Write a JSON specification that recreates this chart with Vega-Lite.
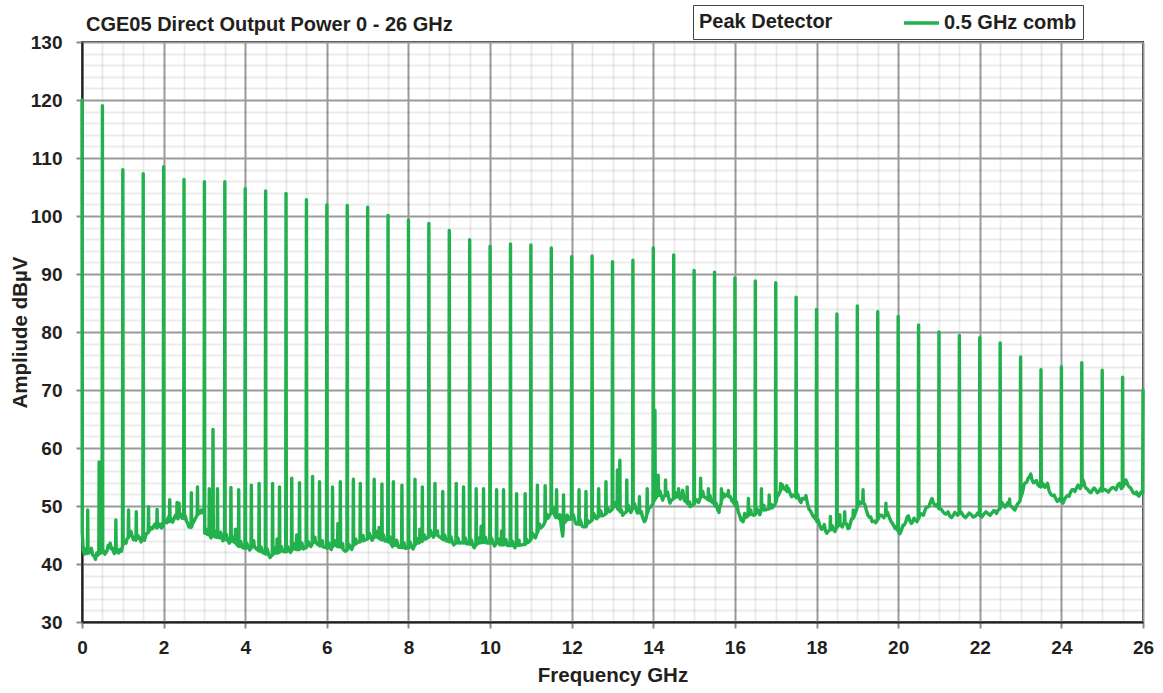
{
"$schema": "https://vega.github.io/schema/vega-lite/v6.json",
"width": 1061,
"height": 580,
"autosize": {"type": "none"},
"padding": {"left": 82, "top": 42, "right": 20, "bottom": 71},
"background": "white",
"title": {"text": "CGE05 Direct Output Power 0 - 26 GHz", "anchor": "start", "frame": "group", "font": "Liberation Sans", "fontSize": 20, "fontWeight": "bold", "color": "#231f20", "baseline": "alphabetic", "offset": -46, "dx": 4},
"config": {"view": {"stroke": "#231f20", "strokeWidth": 2}, "font": "Liberation Sans"},
"data": {"values": [
{"f":0,"a":120},{"f":0.006,"a":45.5},{"f":0.03,"a":42.4},{"f":0.06,"a":41.7},{"f":0.1,"a":42.1},{"f":0.132,"a":41.8},{"f":0.14,"a":49.3},{"f":0.148,"a":41.9},{"f":0.2,"a":42.3},{"f":0.26,"a":41.6},{"f":0.33,"a":40.8},{"f":0.38,"a":41.5},{"f":0.412,"a":41.7},{"f":0.42,"a":57.6},{"f":0.428,"a":42.1},{"f":0.47,"a":41.9},{"f":0.492,"a":42.3},
{"f":0.5,"a":119},{"f":0.508,"a":42},{"f":0.56,"a":41.7},{"f":0.62,"a":42.4},{"f":0.66,"a":42.9},{"f":0.69,"a":43.6},{"f":0.72,"a":42.6},{"f":0.77,"a":42.2},{"f":0.822,"a":42},{"f":0.83,"a":47.6},{"f":0.838,"a":42.1},{"f":0.9,"a":41.9},{"f":0.95,"a":42.6},{"f":0.992,"a":43.1},
{"f":1.0,"a":108},{"f":1.008,"a":43.3},{"f":1.06,"a":43.9},{"f":1.1,"a":44.3},{"f":1.132,"a":44.5},{"f":1.14,"a":49.3},{"f":1.148,"a":44.7},{"f":1.2,"a":45.6},{"f":1.26,"a":44.2},{"f":1.322,"a":44.1},{"f":1.33,"a":49},{"f":1.338,"a":44.3},{"f":1.4,"a":44.5},{"f":1.45,"a":43.8},{"f":1.492,"a":44.2},
{"f":1.5,"a":107.3},{"f":1.508,"a":44.4},{"f":1.56,"a":44.9},{"f":1.622,"a":45.4},{"f":1.63,"a":49.9},{"f":1.638,"a":45.6},{"f":1.7,"a":46.3},{"f":1.76,"a":46.6},{"f":1.832,"a":46.2},{"f":1.84,"a":49.4},{"f":1.848,"a":46.5},{"f":1.9,"a":46.9},{"f":1.95,"a":46.2},{"f":1.992,"a":46.5},
{"f":2.0,"a":108.5},{"f":2.008,"a":47},{"f":2.06,"a":47.3},{"f":2.1,"a":47.7},{"f":2.142,"a":47.3},{"f":2.15,"a":51.1},{"f":2.158,"a":47.5},{"f":2.22,"a":47.2},{"f":2.26,"a":47.9},{"f":2.322,"a":48},{"f":2.33,"a":50.6},{"f":2.338,"a":48.1},{"f":2.372,"a":48.3},{"f":2.38,"a":50.5},{"f":2.388,"a":48.3},{"f":2.45,"a":47.9},{"f":2.492,"a":48},
{"f":2.5,"a":106.3},{"f":2.508,"a":47.8},{"f":2.56,"a":47.4},{"f":2.62,"a":46.4},{"f":2.672,"a":46.3},{"f":2.68,"a":52.3},{"f":2.688,"a":46.4},{"f":2.75,"a":47.4},{"f":2.822,"a":48.4},{"f":2.83,"a":53.3},{"f":2.838,"a":48.5},{"f":2.9,"a":48.8},{"f":2.95,"a":49.1},{"f":2.992,"a":49.4},
{"f":3.0,"a":105.9},{"f":3.008,"a":45.3},{"f":3.07,"a":45.1},{"f":3.112,"a":45},{"f":3.12,"a":53},{"f":3.128,"a":45},{"f":3.202,"a":44.9},{"f":3.21,"a":63.2},{"f":3.218,"a":44.9},{"f":3.26,"a":44.7},{"f":3.312,"a":44.6},{"f":3.32,"a":53},{"f":3.328,"a":44.6},{"f":3.38,"a":44.5},{"f":3.45,"a":44.4},{"f":3.492,"a":44.3},
{"f":3.5,"a":105.9},{"f":3.508,"a":44.2},{"f":3.57,"a":44.1},{"f":3.642,"a":44},{"f":3.65,"a":53.2},{"f":3.658,"a":43.9},{"f":3.72,"a":43.8},{"f":3.752,"a":43.7},{"f":3.76,"a":46},{"f":3.768,"a":43.6},{"f":3.79,"a":43.4},{"f":3.832,"a":43.1},{"f":3.84,"a":52.8},{"f":3.848,"a":43},{"f":3.92,"a":42.9},{"f":3.992,"a":42.7},
{"f":4.0,"a":104.7},{"f":4.008,"a":42.7},{"f":4.07,"a":42.9},{"f":4.142,"a":42.8},{"f":4.15,"a":53.6},{"f":4.158,"a":42.8},{"f":4.22,"a":43.1},{"f":4.27,"a":42.6},{"f":4.332,"a":42.3},{"f":4.34,"a":53.9},{"f":4.348,"a":42.2},{"f":4.42,"a":42},{"f":4.492,"a":41.8},
{"f":4.5,"a":104.3},{"f":4.508,"a":41.7},{"f":4.58,"a":41.5},{"f":4.662,"a":41.6},{"f":4.67,"a":53.9},{"f":4.678,"a":41.6},{"f":4.73,"a":41.9},{"f":4.772,"a":41.9},{"f":4.78,"a":44.3},{"f":4.788,"a":41.9},{"f":4.832,"a":42},{"f":4.84,"a":53.3},{"f":4.848,"a":42.1},{"f":4.92,"a":42.2},{"f":4.992,"a":42.1},
{"f":5.0,"a":103.9},{"f":5.008,"a":42.1},{"f":5.07,"a":42.3},{"f":5.132,"a":42.4},{"f":5.14,"a":54.8},{"f":5.148,"a":42.4},{"f":5.22,"a":42.6},{"f":5.252,"a":42.5},{"f":5.26,"a":45},{"f":5.268,"a":42.5},{"f":5.322,"a":42.5},{"f":5.33,"a":54},{"f":5.338,"a":42.6},{"f":5.42,"a":42.6},{"f":5.492,"a":42.8},
{"f":5.5,"a":102.8},{"f":5.508,"a":42.9},{"f":5.58,"a":43.3},{"f":5.642,"a":43.5},{"f":5.65,"a":55.1},{"f":5.658,"a":43.6},{"f":5.72,"a":43.8},{"f":5.77,"a":43.4},{"f":5.812,"a":43.2},{"f":5.82,"a":54.2},{"f":5.828,"a":43.1},{"f":5.9,"a":43},{"f":5.992,"a":42.8},
{"f":6.0,"a":101.9},{"f":6.008,"a":42.7},{"f":6.07,"a":42.9},{"f":6.132,"a":43},{"f":6.14,"a":53.3},{"f":6.148,"a":43},{"f":6.22,"a":43.2},{"f":6.262,"a":43},{"f":6.27,"a":47},{"f":6.278,"a":43},{"f":6.322,"a":43},{"f":6.33,"a":54.2},{"f":6.338,"a":42.9},{"f":6.4,"a":42.5},{"f":6.45,"a":42.2},{"f":6.492,"a":42.4},
{"f":6.5,"a":101.8},{"f":6.508,"a":42.5},{"f":6.58,"a":42.9},{"f":6.642,"a":43.1},{"f":6.65,"a":54.6},{"f":6.658,"a":43.2},{"f":6.72,"a":43.5},{"f":6.76,"a":43.8},{"f":6.812,"a":43.8},{"f":6.82,"a":53.9},{"f":6.828,"a":43.9},{"f":6.9,"a":44},{"f":6.992,"a":44.3},
{"f":7.0,"a":101.5},{"f":7.008,"a":44.4},{"f":7.08,"a":44.6},{"f":7.152,"a":44.6},{"f":7.16,"a":54.6},{"f":7.168,"a":44.6},{"f":7.22,"a":44.7},{"f":7.272,"a":44.5},{"f":7.28,"a":46.3},{"f":7.288,"a":44.4},{"f":7.342,"a":44.2},{"f":7.35,"a":53.8},{"f":7.358,"a":44.2},{"f":7.42,"a":44},{"f":7.492,"a":43.9},
{"f":7.5,"a":100.1},{"f":7.508,"a":43.8},{"f":7.57,"a":43.5},{"f":7.622,"a":43.3},{"f":7.63,"a":54.2},{"f":7.638,"a":43.3},{"f":7.7,"a":43.2},{"f":7.76,"a":42.9},{"f":7.832,"a":42.9},{"f":7.84,"a":53.6},{"f":7.848,"a":42.8},{"f":7.92,"a":42.7},{"f":7.992,"a":42.8},
{"f":8.0,"a":99.3},{"f":8.008,"a":42.8},{"f":8.08,"a":43},{"f":8.152,"a":43.2},{"f":8.16,"a":54.6},{"f":8.168,"a":43.3},{"f":8.24,"a":43.6},{"f":8.272,"a":43.7},{"f":8.28,"a":46},{"f":8.288,"a":43.8},{"f":8.332,"a":43.9},{"f":8.34,"a":53.3},{"f":8.348,"a":44},{"f":8.42,"a":44.3},{"f":8.492,"a":44.6},
{"f":8.5,"a":98.7},{"f":8.508,"a":44.7},{"f":8.58,"a":45},{"f":8.642,"a":45.1},{"f":8.65,"a":53.9},{"f":8.658,"a":45},{"f":8.72,"a":44.9},{"f":8.78,"a":44.6},{"f":8.832,"a":44.3},{"f":8.84,"a":52.5},{"f":8.848,"a":44.2},{"f":8.92,"a":44},{"f":8.992,"a":43.9},
{"f":9.0,"a":97.5},{"f":9.008,"a":43.8},{"f":9.08,"a":43.7},{"f":9.162,"a":43.7},{"f":9.17,"a":53.9},{"f":9.178,"a":43.6},{"f":9.25,"a":43.6},{"f":9.3,"a":43.7},{"f":9.342,"a":43.6},{"f":9.35,"a":53.3},{"f":9.358,"a":43.6},{"f":9.42,"a":43.5},{"f":9.492,"a":43.5},
{"f":9.5,"a":95.9},{"f":9.508,"a":43.4},{"f":9.58,"a":43.2},{"f":9.652,"a":43.3},{"f":9.66,"a":53},{"f":9.668,"a":43.3},{"f":9.73,"a":43.6},{"f":9.772,"a":43.7},{"f":9.78,"a":46.5},{"f":9.788,"a":43.8},{"f":9.832,"a":43.7},{"f":9.84,"a":53},{"f":9.848,"a":43.7},{"f":9.92,"a":43.6},{"f":9.992,"a":43.6},
{"f":10.0,"a":94.8},{"f":10.008,"a":43.6},{"f":10.08,"a":43.5},{"f":10.152,"a":43.6},{"f":10.16,"a":52.8},{"f":10.168,"a":43.6},{"f":10.24,"a":43.3},{"f":10.272,"a":43.3},{"f":10.28,"a":45.7},{"f":10.288,"a":43.3},{"f":10.322,"a":43.3},{"f":10.33,"a":52.8},{"f":10.338,"a":43.3},{"f":10.42,"a":43.2},{"f":10.492,"a":43.2},
{"f":10.5,"a":95.2},{"f":10.508,"a":43.2},{"f":10.58,"a":43.1},{"f":10.642,"a":43.2},{"f":10.65,"a":52.1},{"f":10.658,"a":43.2},{"f":10.72,"a":43.2},{"f":10.78,"a":43.3},{"f":10.852,"a":43.4},{"f":10.86,"a":52.1},{"f":10.868,"a":43.4},{"f":10.93,"a":43.7},{"f":10.992,"a":44.1},
{"f":11.0,"a":95},{"f":11.008,"a":44.3},{"f":11.08,"a":44.8},{"f":11.152,"a":45.4},{"f":11.16,"a":53.6},{"f":11.168,"a":45.5},{"f":11.24,"a":46.2},{"f":11.3,"a":46.6},{"f":11.342,"a":47.2},{"f":11.35,"a":53.5},{"f":11.358,"a":47.4},{"f":11.42,"a":47.9},{"f":11.492,"a":48.8},
{"f":11.5,"a":94.5},{"f":11.508,"a":49.2},{"f":11.56,"a":48.8},{"f":11.622,"a":48.5},{"f":11.63,"a":52.8},{"f":11.638,"a":48.3},{"f":11.7,"a":47.8},{"f":11.75,"a":46.2},{"f":11.78,"a":44.8},{"f":11.792,"a":46},{"f":11.8,"a":51.9},{"f":11.808,"a":47},{"f":11.87,"a":47.5},{"f":11.94,"a":47.7},{"f":11.992,"a":47.8},
{"f":12.0,"a":93},{"f":12.008,"a":47.8},{"f":12.08,"a":47.4},{"f":12.172,"a":46.9},{"f":12.18,"a":52.8},{"f":12.188,"a":46.8},{"f":12.26,"a":46.5},{"f":12.3,"a":46.4},{"f":12.342,"a":46.4},{"f":12.35,"a":52.5},{"f":12.358,"a":46.5},{"f":12.42,"a":47.1},{"f":12.492,"a":47.5},
{"f":12.5,"a":93.1},{"f":12.508,"a":47.6},{"f":12.58,"a":48.1},{"f":12.652,"a":48.2},{"f":12.66,"a":53},{"f":12.668,"a":48.2},{"f":12.74,"a":48.3},{"f":12.78,"a":48.4},{"f":12.832,"a":48.6},{"f":12.84,"a":54.2},{"f":12.848,"a":48.7},{"f":12.92,"a":49},{"f":12.992,"a":49.4},
{"f":13.0,"a":92.1},{"f":13.008,"a":49.6},{"f":13.06,"a":49.9},{"f":13.112,"a":50},{"f":13.12,"a":56.2},{"f":13.128,"a":49.5},{"f":13.172,"a":49.2},{"f":13.18,"a":57.9},{"f":13.188,"a":49},{"f":13.25,"a":48.4},{"f":13.3,"a":48.8},{"f":13.342,"a":49},{"f":13.35,"a":54.5},{"f":13.358,"a":49.1},{"f":13.42,"a":49.3},{"f":13.492,"a":49.6},
{"f":13.5,"a":92.4},{"f":13.508,"a":49.6},{"f":13.58,"a":49.4},{"f":13.652,"a":49},{"f":13.66,"a":51.6},{"f":13.668,"a":48.8},{"f":13.73,"a":48.2},{"f":13.78,"a":47.3},{"f":13.81,"a":47.6},{"f":13.842,"a":48.5},{"f":13.85,"a":53},{"f":13.858,"a":48.8},{"f":13.93,"a":49.8},{"f":13.992,"a":50.4},
{"f":14.0,"a":94.5},{"f":14.008,"a":50.8},{"f":14.032,"a":51},{"f":14.04,"a":66.5},{"f":14.048,"a":51.2},{"f":14.08,"a":51.6},{"f":14.112,"a":51.8},{"f":14.12,"a":55.3},{"f":14.128,"a":51.8},{"f":14.2,"a":51.7},{"f":14.25,"a":51.6},{"f":14.292,"a":51.8},{"f":14.3,"a":54.5},{"f":14.308,"a":51.8},{"f":14.38,"a":51.3},{"f":14.44,"a":51},{"f":14.492,"a":51.2},
{"f":14.5,"a":93.3},{"f":14.508,"a":51.3},{"f":14.56,"a":51.5},{"f":14.612,"a":51.8},{"f":14.62,"a":53},{"f":14.628,"a":51.8},{"f":14.7,"a":51.9},{"f":14.76,"a":51},{"f":14.822,"a":50.6},{"f":14.83,"a":53.3},{"f":14.838,"a":50.4},{"f":14.9,"a":49.9},{"f":14.95,"a":50.1},{"f":14.992,"a":50.3},
{"f":15.0,"a":90.6},{"f":15.008,"a":50.4},{"f":15.08,"a":51},{"f":15.152,"a":51.4},{"f":15.16,"a":54.8},{"f":15.168,"a":51.5},{"f":15.24,"a":51.6},{"f":15.3,"a":51.3},{"f":15.342,"a":51.1},{"f":15.35,"a":53},{"f":15.358,"a":51},{"f":15.42,"a":50.8},{"f":15.492,"a":50.4},
{"f":15.5,"a":90.3},{"f":15.508,"a":50},{"f":15.58,"a":49.3},{"f":15.62,"a":49.6},{"f":15.662,"a":50.5},{"f":15.67,"a":53},{"f":15.678,"a":51},{"f":15.75,"a":51.6},{"f":15.8,"a":52},{"f":15.832,"a":51.8},{"f":15.84,"a":52.7},{"f":15.848,"a":51.6},{"f":15.92,"a":51},{"f":15.992,"a":50.3},
{"f":16.0,"a":89.3},{"f":16.008,"a":50},{"f":16.08,"a":49},{"f":16.15,"a":47.6},{"f":16.2,"a":47.3},{"f":16.26,"a":48},{"f":16.322,"a":48.3},{"f":16.33,"a":51.3},{"f":16.338,"a":48.4},{"f":16.4,"a":48.6},{"f":16.46,"a":48.4},{"f":16.492,"a":48.5},
{"f":16.5,"a":88.8},{"f":16.508,"a":48.6},{"f":16.58,"a":49.1},{"f":16.642,"a":49.2},{"f":16.65,"a":53},{"f":16.658,"a":49.3},{"f":16.72,"a":49.3},{"f":16.78,"a":49.4},{"f":16.832,"a":49.5},{"f":16.84,"a":51.9},{"f":16.848,"a":49.5},{"f":16.92,"a":49.7},{"f":16.992,"a":50.4},
{"f":17.0,"a":88.5},{"f":17.008,"a":50.7},{"f":17.06,"a":51.8},{"f":17.112,"a":52.6},{"f":17.12,"a":53.9},{"f":17.128,"a":52.8},{"f":17.2,"a":53},{"f":17.262,"a":52.7},{"f":17.27,"a":53.5},{"f":17.278,"a":52.5},{"f":17.35,"a":52.2},{"f":17.42,"a":51.9},{"f":17.492,"a":51.6},
{"f":17.5,"a":86},{"f":17.508,"a":51.4},{"f":17.58,"a":51},{"f":17.65,"a":51.3},{"f":17.71,"a":51.2},{"f":17.78,"a":50.3},{"f":17.85,"a":49.2},{"f":17.92,"a":48.2},{"f":17.992,"a":47.6},
{"f":18.0,"a":83.9},{"f":18.008,"a":47.3},{"f":18.08,"a":46.6},{"f":18.15,"a":46.1},{"f":18.22,"a":45.7},{"f":18.28,"a":45.6},{"f":18.332,"a":45.9},{"f":18.34,"a":48.2},{"f":18.348,"a":45.9},{"f":18.42,"a":45.9},{"f":18.492,"a":46.3},
{"f":18.5,"a":83.1},{"f":18.508,"a":46.4},{"f":18.562,"a":46.7},{"f":18.57,"a":48.5},{"f":18.578,"a":46.8},{"f":18.682,"a":47.3},{"f":18.69,"a":49},{"f":18.698,"a":47},{"f":18.77,"a":46.1},{"f":18.83,"a":47},{"f":18.892,"a":47.8},{"f":18.9,"a":49.3},{"f":18.908,"a":48},{"f":18.96,"a":49},{"f":18.992,"a":49.6},
{"f":19.0,"a":84.5},{"f":19.008,"a":49.9},{"f":19.07,"a":50.4},{"f":19.132,"a":50.6},{"f":19.14,"a":52.8},{"f":19.148,"a":50.5},{"f":19.22,"a":49.3},{"f":19.3,"a":48},{"f":19.36,"a":47.3},{"f":19.42,"a":47.4},{"f":19.492,"a":47.6},
{"f":19.5,"a":83.5},{"f":19.508,"a":47.7},{"f":19.6,"a":48.4},{"f":19.692,"a":48.5},{"f":19.7,"a":50.5},{"f":19.708,"a":48.4},{"f":19.78,"a":48.1},{"f":19.86,"a":47},{"f":19.93,"a":46.1},{"f":19.992,"a":45.8},
{"f":20.0,"a":82.7},{"f":20.008,"a":45.6},{"f":20.08,"a":45.8},{"f":20.15,"a":46.7},{"f":20.22,"a":48.1},{"f":20.28,"a":47.6},{"f":20.35,"a":47.2},{"f":20.42,"a":47.6},{"f":20.492,"a":47.8},
{"f":20.5,"a":81.2},{"f":20.508,"a":47.9},{"f":20.58,"a":48.6},{"f":20.65,"a":49.1},{"f":20.72,"a":49.8},{"f":20.8,"a":50.9},{"f":20.86,"a":50.6},{"f":20.93,"a":50},{"f":20.992,"a":49.6},
{"f":21.0,"a":80},{"f":21.008,"a":49.5},{"f":21.1,"a":49},{"f":21.18,"a":48.6},{"f":21.27,"a":48.2},{"f":21.35,"a":48.4},{"f":21.42,"a":48.7},{"f":21.492,"a":48.8},
{"f":21.5,"a":79.4},{"f":21.508,"a":48.7},{"f":21.6,"a":48.3},{"f":21.7,"a":48.4},{"f":21.79,"a":48.5},{"f":21.9,"a":48.3},{"f":21.992,"a":48.4},
{"f":22.0,"a":79},{"f":22.008,"a":48.4},{"f":22.1,"a":48.6},{"f":22.2,"a":48.7},{"f":22.3,"a":48.8},{"f":22.38,"a":49.1},{"f":22.45,"a":49.3},{"f":22.492,"a":49.5},
{"f":22.5,"a":78.1},{"f":22.508,"a":49.7},{"f":22.58,"a":50.2},{"f":22.65,"a":50.1},{"f":22.722,"a":50.3},{"f":22.73,"a":51.2},{"f":22.738,"a":50.1},{"f":22.82,"a":49.6},{"f":22.9,"a":50},{"f":22.96,"a":50.6},{"f":22.992,"a":51},
{"f":23.0,"a":75.7},{"f":23.008,"a":51.5},{"f":23.06,"a":52.8},{"f":23.12,"a":54},{"f":23.18,"a":54.7},{"f":23.22,"a":55.1},{"f":23.28,"a":54.5},{"f":23.35,"a":54.1},{"f":23.42,"a":53.7},{"f":23.492,"a":53.3},
{"f":23.5,"a":73.5},{"f":23.508,"a":53.3},{"f":23.57,"a":53.5},{"f":23.63,"a":53.6},{"f":23.7,"a":52.6},{"f":23.78,"a":51.8},{"f":23.86,"a":51.3},{"f":23.93,"a":51},{"f":23.992,"a":50.8},
{"f":24.0,"a":74},{"f":24.008,"a":50.8},{"f":24.08,"a":51.2},{"f":24.15,"a":51.8},{"f":24.22,"a":52.3},{"f":24.3,"a":52.8},{"f":24.37,"a":53.1},{"f":24.44,"a":53.3},{"f":24.492,"a":53.5},
{"f":24.5,"a":74.7},{"f":24.508,"a":53.8},{"f":24.55,"a":54.2},{"f":24.6,"a":53.1},{"f":24.68,"a":52.5},{"f":24.76,"a":52.7},{"f":24.84,"a":52.8},{"f":24.92,"a":52.5},{"f":24.992,"a":52.6},
{"f":25.0,"a":73.4},{"f":25.008,"a":52.6},{"f":25.1,"a":52.7},{"f":25.2,"a":52.9},{"f":25.3,"a":53.1},{"f":25.38,"a":53.6},{"f":25.45,"a":53.4},{"f":25.492,"a":53.2},
{"f":25.5,"a":72.2},{"f":25.508,"a":53.3},{"f":25.56,"a":53.9},{"f":25.6,"a":54.2},{"f":25.66,"a":53.3},{"f":25.72,"a":52.8},{"f":25.8,"a":52.1},{"f":25.87,"a":51.9},{"f":25.94,"a":52.3},{"f":25.992,"a":52.2},
{"f":26.0,"a":70},
{"f":0.08,"a":42.6},{"f":0.17,"a":41.9},{"f":0.23,"a":42.7},{"f":0.3,"a":41.3},{"f":0.36,"a":41.9},{"f":0.45,"a":42.4},
{"f":0.53,"a":42.3},{"f":0.59,"a":42.0},{"f":0.64,"a":43.2},{"f":0.75,"a":42.7},{"f":0.79,"a":41.8},{"f":0.87,"a":42.5},{"f":0.92,"a":42.3},{"f":0.97,"a":42.2},
{"f":1.03,"a":43.8},{"f":1.08,"a":43.6},{"f":1.17,"a":45.1},{"f":1.23,"a":44.8},{"f":1.29,"a":44.6},{"f":1.37,"a":44.9},{"f":1.43,"a":44.2},{"f":1.47,"a":44.6},
{"f":1.53,"a":44.1},{"f":1.59,"a":45.3},{"f":1.67,"a":45.9},{"f":1.73,"a":46.1},{"f":1.79,"a":46.9},{"f":1.87,"a":46.4},{"f":1.93,"a":46.5},{"f":1.97,"a":47.0},
{"f":2.03,"a":47.6},{"f":2.08,"a":47.1},{"f":2.12,"a":48.1},{"f":2.19,"a":47.8},{"f":2.24,"a":47.5},{"f":2.29,"a":48.4},{"f":2.35,"a":47.8},{"f":2.42,"a":48.6},{"f":2.47,"a":48.3},
{"f":2.53,"a":48.3},{"f":2.59,"a":47.0},{"f":2.65,"a":46.9},{"f":2.71,"a":47.0},{"f":2.78,"a":47.9},{"f":2.86,"a":48.8},{"f":2.92,"a":49.3},{"f":2.97,"a":48.8},
{"f":3.04,"a":46.0},{"f":3.16,"a":44.5},{"f":3.24,"a":45.7},{"f":3.39,"a":45.5},{"f":3.45,"a":44.0},
{"f":3.54,"a":45.1},{"f":3.61,"a":43.6},{"f":3.71,"a":44.6},{"f":3.89,"a":43.9},
{"f":4.04,"a":43.6},{"f":4.11,"a":42.4},{"f":4.21,"a":44.0},{"f":4.39,"a":42.9},
{"f":4.54,"a":42.6},{"f":4.61,"a":41.1},{"f":4.71,"a":42.8},{"f":4.89,"a":43.0},
{"f":5.04,"a":43.0},{"f":5.11,"a":42.0},{"f":5.21,"a":43.5},{"f":5.39,"a":43.6},
{"f":5.54,"a":43.9},{"f":5.61,"a":43.0},{"f":5.71,"a":44.6},{"f":5.89,"a":44.0},
{"f":6.04,"a":43.7},{"f":6.11,"a":42.5},{"f":6.21,"a":44.0},{"f":6.39,"a":43.5},
{"f":6.54,"a":43.4},{"f":6.61,"a":42.5},{"f":6.71,"a":44.3},{"f":6.89,"a":44.9},
{"f":7.04,"a":45.3},{"f":7.11,"a":44.1},{"f":7.21,"a":45.6},{"f":7.39,"a":45.0},
{"f":7.54,"a":44.7},{"f":7.61,"a":43.0},{"f":7.71,"a":44.1},{"f":7.89,"a":43.7},
{"f":8.04,"a":43.8},{"f":8.11,"a":42.6},{"f":8.21,"a":44.4},{"f":8.39,"a":45.0},
{"f":8.54,"a":45.8},{"f":8.61,"a":44.6},{"f":8.71,"a":45.7},{"f":8.89,"a":45.0},
{"f":9.04,"a":44.7},{"f":9.11,"a":43.3},{"f":9.21,"a":44.5},{"f":9.39,"a":44.5},
{"f":9.54,"a":44.2},{"f":9.61,"a":42.8},{"f":9.71,"a":44.5},{"f":9.89,"a":44.6},
{"f":10.04,"a":44.4},{"f":10.11,"a":43.1},{"f":10.21,"a":44.3},{"f":10.39,"a":44.2},
{"f":10.54,"a":44.0},{"f":10.61,"a":42.8},{"f":10.71,"a":44.1},{"f":10.89,"a":44.3},
{"f":11.04,"a":45.3},{"f":11.11,"a":44.5},{"f":11.21,"a":46.9},{"f":11.39,"a":48.6},
{"f":11.54,"a":49.8},{"f":11.61,"a":48.0},{"f":11.71,"a":48.5},{"f":11.89,"a":48.4},
{"f":12.04,"a":48.5},{"f":12.11,"a":46.9},{"f":12.21,"a":47.6},{"f":12.39,"a":47.5},
{"f":12.54,"a":48.7},{"f":12.61,"a":47.8},{"f":12.71,"a":49.2},{"f":12.89,"a":49.6},
{"f":13.04,"a":50.6},{"f":13.22,"a":49.3},{"f":13.39,"a":50.1},{"f":13.45,"a":48.9},
{"f":13.54,"a":50.4},{"f":13.61,"a":48.8},{"f":13.71,"a":49.0},{"f":13.89,"a":49.6},
{"f":14.16,"a":52.6},{"f":14.23,"a":51.0},{"f":14.35,"a":52.4},{"f":14.41,"a":50.5},
{"f":14.54,"a":52.3},{"f":14.66,"a":51.2},{"f":14.72,"a":52.7},{"f":14.89,"a":50.7},
{"f":15.04,"a":51.1},{"f":15.11,"a":50.6},{"f":15.21,"a":52.5},{"f":15.39,"a":51.8},
{"f":15.54,"a":50.5},{"f":15.61,"a":48.9},{"f":15.71,"a":52.2},{"f":15.89,"a":51.6},
{"f":16.04,"a":50.7},{"f":16.11,"a":48.5},{"f":16.24,"a":48.7},{"f":16.39,"a":49.3},
{"f":16.54,"a":49.5},{"f":16.61,"a":48.5},{"f":16.71,"a":50.1},{"f":16.89,"a":50.3},
{"f":17.04,"a":51.8},{"f":17.16,"a":53.7},{"f":17.32,"a":53.0},{"f":17.39,"a":51.6},
{"f":17.54,"a":52.0},{"f":17.62,"a":50.6},{"f":17.74,"a":51.8},{"f":17.82,"a":49.4},
{"f":18.04,"a":47.6},{"f":18.12,"a":46.0},{"f":18.19,"a":46.8},{"f":18.25,"a":45.3},{"f":18.39,"a":46.6},{"f":18.45,"a":45.6},
{"f":18.53,"a":46.9},{"f":18.63,"a":46.4},{"f":18.74,"a":46.9},{"f":18.8,"a":46.2},{"f":18.86,"a":47.8},
{"f":19.04,"a":50.8},{"f":19.18,"a":50.3},{"f":19.26,"a":48.4},{"f":19.33,"a":48.1},{"f":19.45,"a":47.1},
{"f":19.55,"a":48.4},{"f":19.65,"a":48.0},{"f":19.74,"a":48.9},{"f":19.82,"a":47.4},{"f":19.96,"a":46.5},
{"f":20.04,"a":45.2},{"f":20.12,"a":46.7},{"f":20.19,"a":47.3},{"f":20.25,"a":48.3},{"f":20.32,"a":47.0},{"f":20.39,"a":47.9},{"f":20.46,"a":47.3},
{"f":20.54,"a":48.7},{"f":20.62,"a":48.4},{"f":20.69,"a":49.8},{"f":20.76,"a":50.0},{"f":20.83,"a":51.3},{"f":20.9,"a":50.1},{"f":20.96,"a":50.3},
{"f":21.05,"a":49.5},{"f":21.14,"a":48.7},{"f":21.22,"a":49.0},{"f":21.31,"a":48.0},{"f":21.39,"a":48.9},{"f":21.46,"a":48.4},
{"f":21.55,"a":48.9},{"f":21.65,"a":48.0},{"f":21.74,"a":48.8},{"f":21.84,"a":48.1},{"f":21.95,"a":48.8},
{"f":22.05,"a":48.1},{"f":22.15,"a":49.0},{"f":22.25,"a":48.4},{"f":22.34,"a":49.2},{"f":22.41,"a":48.7},
{"f":22.54,"a":50.6},{"f":22.62,"a":49.8},{"f":22.69,"a":50.6},{"f":22.78,"a":49.9},{"f":22.86,"a":49.3},{"f":22.93,"a":50.4},
{"f":23.04,"a":52.2},{"f":23.09,"a":53.8},{"f":23.15,"a":54.1},{"f":23.25,"a":55.5},{"f":23.32,"a":54.0},{"f":23.39,"a":54.4},{"f":23.46,"a":53.4},
{"f":23.54,"a":53.9},{"f":23.6,"a":53.2},{"f":23.66,"a":53.9},{"f":23.74,"a":52.0},{"f":23.82,"a":51.9},{"f":23.9,"a":50.8},{"f":23.96,"a":51.3},
{"f":24.04,"a":50.5},{"f":24.12,"a":51.6},{"f":24.19,"a":51.7},{"f":24.26,"a":52.8},{"f":24.33,"a":52.5},{"f":24.41,"a":53.6},{"f":24.46,"a":53.0},
{"f":24.53,"a":54.5},{"f":24.57,"a":53.5},{"f":24.64,"a":52.9},{"f":24.72,"a":52.3},{"f":24.8,"a":53.1},{"f":24.88,"a":52.3},{"f":24.96,"a":53.0},
{"f":25.05,"a":52.9},{"f":25.15,"a":52.4},{"f":25.25,"a":53.2},{"f":25.34,"a":52.8},{"f":25.42,"a":53.9},{"f":25.47,"a":53.0},
{"f":25.53,"a":53.7},{"f":25.58,"a":54.5},{"f":25.63,"a":53.6},{"f":25.69,"a":53.2},{"f":25.76,"a":52.3},{"f":25.84,"a":52.4},{"f":25.9,"a":51.7},{"f":25.97,"a":52.5}
]},
"mark": {"type": "line", "strokeWidth": 3.4, "strokeJoin": "round", "strokeCap": "round"},
"encoding": {
"x": {"field": "f", "type": "quantitative",
 "scale": {"domain": [0, 26], "nice": false, "zero": false},
 "axis": {"title": "Frequency GHz", "format": "~g",
  "values": [0,0.5,1,1.5,2,2.5,3,3.5,4,4.5,5,5.5,6,6.5,7,7.5,8,8.5,9,9.5,10,10.5,11,11.5,12,12.5,13,13.5,14,14.5,15,15.5,16,16.5,17,17.5,18,18.5,19,19.5,20,20.5,21,21.5,22,22.5,23,23.5,24,24.5,25,25.5,26],
  "labelExpr": "datum.value % 2 === 0 ? datum.label : ''",
  "labelFont": "Liberation Sans", "labelFontSize": 19, "labelFontWeight": "bold", "labelColor": "#231f20",
  "labelPadding": 10, "labelOverlap": false, "labelFlush": false,
  "tickSize": 6, "tickWidth": 2, "tickColor": "#8a8a8a",
  "tickOpacity": {"condition": {"test": "datum.value % 2 === 0", "value": 1}, "value": 0},
  "domainColor": "#231f20", "domainWidth": 2,
  "gridColor": {"condition": {"test": "datum.value % 2 === 0", "value": "#9a9a9a"}, "value": "#000000"},
  "gridOpacity": {"condition": {"test": "datum.value % 2 === 0", "value": 1}, "value": 0.075},
  "gridWidth": 2,
  "titleFont": "Liberation Sans", "titleFontSize": 20.5, "titleFontWeight": "bold", "titleColor": "#231f20", "titlePadding": 8}},
"y": {"field": "a", "type": "quantitative",
 "scale": {"domain": [30, 130], "nice": false, "zero": false},
 "axis": {"title": "Ampliude dBµV",
  "values": [30,32,34,36,38,40,42,44,46,48,50,52,54,56,58,60,62,64,66,68,70,72,74,76,78,80,82,84,86,88,90,92,94,96,98,100,102,104,106,108,110,112,114,116,118,120,122,124,126,128,130],
  "labelExpr": "datum.value % 10 === 0 ? datum.label : ''",
  "labelFont": "Liberation Sans", "labelFontSize": 19, "labelFontWeight": "bold", "labelColor": "#231f20",
  "labelPadding": 14, "labelOverlap": false, "labelFlush": false,
  "tickSize": 6, "tickWidth": 2, "tickColor": "#8a8a8a",
  "tickOpacity": {"condition": {"test": "datum.value % 10 === 0", "value": 1}, "value": 0},
  "domainColor": "#231f20", "domainWidth": 2,
  "gridColor": {"condition": {"test": "datum.value % 10 === 0", "value": "#9a9a9a"}, "value": "#000000"},
  "gridOpacity": {"condition": {"test": "datum.value % 10 === 0", "value": 1}, "value": 0.075},
  "gridWidth": 2,
  "titleFont": "Liberation Sans", "titleFontSize": 20.5, "titleFontWeight": "bold", "titleColor": "#231f20", "titlePadding": 0}},
"color": {"datum": "0.5 GHz comb", "type": "nominal", "scale": {"range": ["#22b14c"]},
 "legend": {"orient": "none", "legendX": 611, "legendY": -37,
  "title": "Peak Detector", "titleOrient": "left", "titleAnchor": "middle", "titleBaseline": "middle",
  "titleFont": "Liberation Sans", "titleFontSize": 20, "titleFontWeight": "bold", "titleColor": "#231f20", "titlePadding": 84,
  "labelFont": "Liberation Sans", "labelFontSize": 20, "labelFontWeight": "bold", "labelColor": "#231f20", "labelOffset": 3,
  "symbolType": "M-2.5,0H1", "symbolStrokeWidth": 3.5, "symbolSize": 400,
  "strokeColor": "#444444", "fillColor": "white", "padding": 6}}
}
}
